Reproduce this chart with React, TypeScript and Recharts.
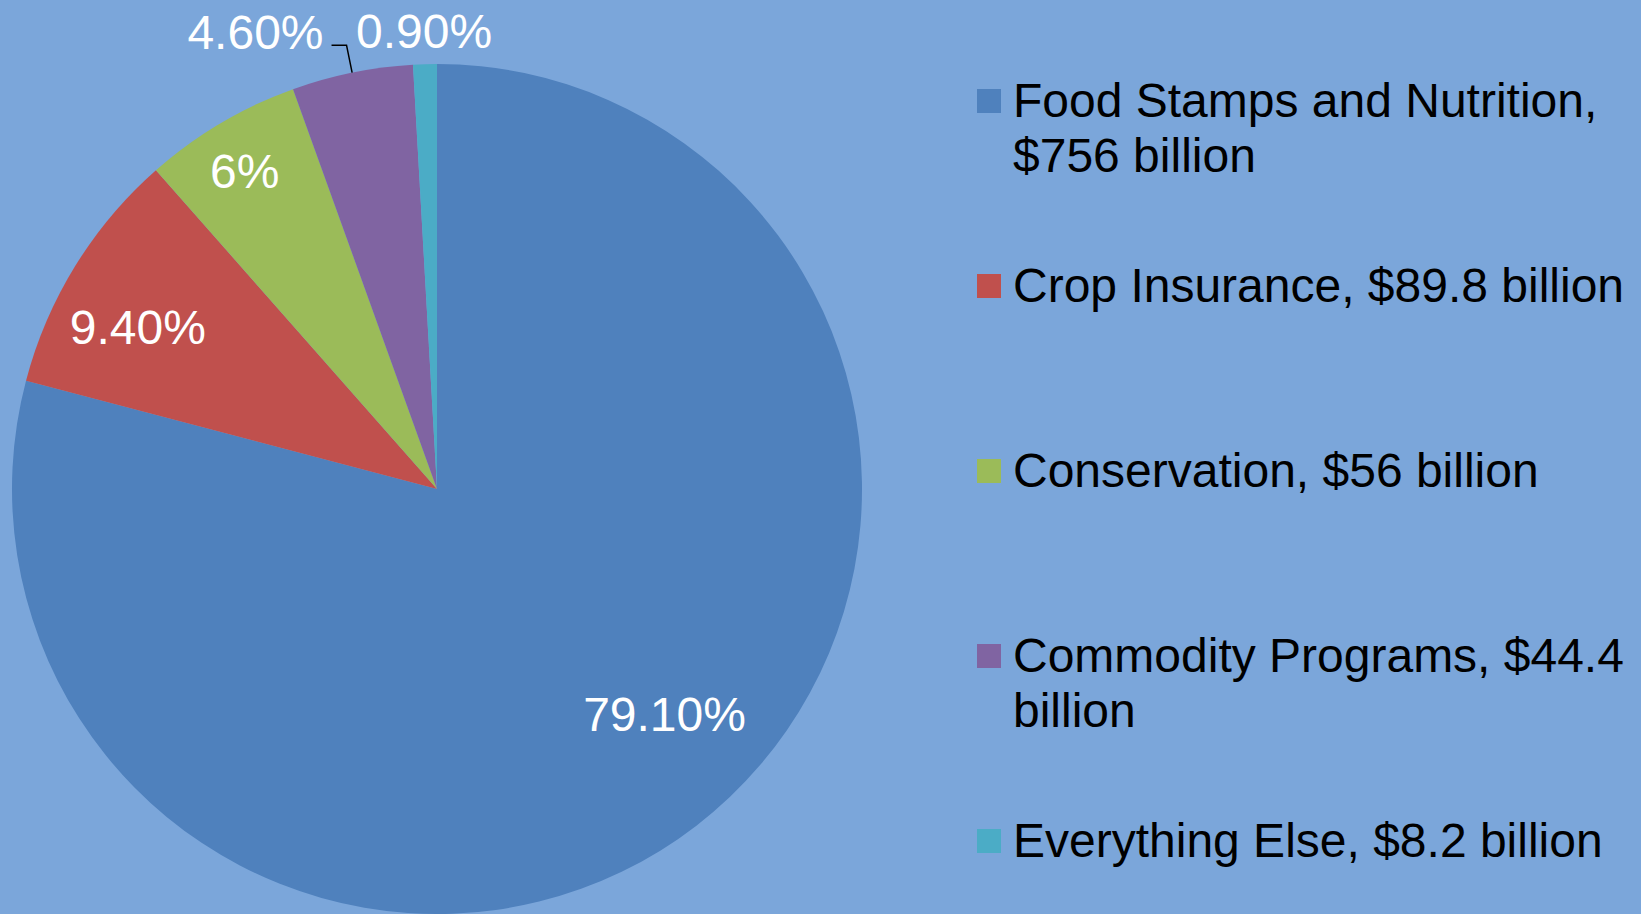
import React from 'react';
import { PieChart, Pie, Cell, Legend } from 'recharts';

const categories = ['Food Stamps and Nutrition', 'Crop Insurance', 'Conservation', 'Commodity Programs', 'Everything Else'];
const amounts = ['$756 billion', '$89.8 billion', '$56 billion', '$44.4 billion', '$8.2 billion'];
const shares = [79.1, 9.4, 6, 4.6, 0.9];
const shareLabels = ['79.10%', '9.40%', '6%', '4.60%', '0.90%'];

const colors = ['#4F81BD', '#C0504D', '#9BBB59', '#8064A2', '#4BACC6'];

// label placement styling (radius fraction / angle nudge / mode)
const labelPlacement = [
  { mode: 'inside', r: 0.753, dAngle: 7.7 },
  { mode: 'inside', r: 0.8, dAngle: 3.3 },
  { mode: 'inside', r: 0.873, dAngle: 0.6 },
  { mode: 'leader', r: 0, dAngle: 0 },
  { mode: 'outside', r: 33, dAngle: 0 },
];

const data = categories.map((c, i) => ({
  name: `${c}, ${amounts[i]}`,
  value: shares[i],
  label: shareLabels[i],
}));

const FONT = '"Liberation Sans", Arial, Helvetica, sans-serif';
const RAD = Math.PI / 180;

const renderLabel = (props: any) => {
  const { cx, cy, midAngle, outerRadius, index } = props;
  const p = labelPlacement[index];
  const text = shareLabels[index];
  const common = { fill: '#FFFFFF', fontSize: 48, fontFamily: FONT };
  if (p.mode === 'inside') {
    const a = (midAngle + p.dAngle) * RAD;
    const r = outerRadius * p.r;
    return (
      <text key={`l${index}`} x={cx + r * Math.cos(a)} y={cy - r * Math.sin(a)} textAnchor="middle" dominantBaseline="central" {...common}>
        {text}
      </text>
    );
  }
  if (p.mode === 'outside') {
    const a = midAngle * RAD;
    const r = outerRadius + p.r;
    return (
      <text key={`l${index}`} x={cx + r * Math.cos(a)} y={cy - r * Math.sin(a)} textAnchor="middle" dominantBaseline="central" {...common}>
        {text}
      </text>
    );
  }
  const a = midAngle * RAD;
  const sx = cx + outerRadius * Math.cos(a);
  const sy = cy - outerRadius * Math.sin(a);
  const ex = cx + (outerRadius + 28) * Math.cos(a);
  const ey = cy - (outerRadius + 28) * Math.sin(a);
  const hx = ex - 15;
  return (
    <g key={`l${index}`}>
      <polyline points={`${sx},${sy} ${ex},${ey} ${hx},${ey}`} fill="none" stroke="#000" strokeWidth={1.5} />
      <text x={hx - 8} y={ey - 13} textAnchor="end" dominantBaseline="central" {...common}>
        {text}
      </text>
    </g>
  );
};

const renderLegend = (props: any) => {
  const payload = [...(props.payload || [])].sort(
    (a: any, b: any) => data.findIndex((d) => d.name === a.value) - data.findIndex((d) => d.name === b.value)
  );
  return (
    <div style={{ width: 660 }}>
      {payload.map((entry: any, i: number) => (
        <div key={i} style={{ position: 'relative', height: 185, fontFamily: FONT, fontSize: 48, lineHeight: '54.5px', color: '#000' }}>
          <div style={{ position: 'absolute', left: 0, top: 15, width: 24, height: 24, background: entry.color }} />
          <div style={{ position: 'absolute', left: 36, top: 0, width: 622 }}>{entry.value}</div>
        </div>
      ))}
    </div>
  );
};

export default function App() {
  return (
    <div style={{ position: 'absolute', left: 0, top: 0, width: 1641, height: 914, background: '#7BA6DA', overflow: 'hidden' }}>
      <PieChart width={1641} height={914}>
        <Pie
          data={data}
          dataKey="value"
          nameKey="name"
          cx={432}
          cy={484}
          outerRadius={425}
          startAngle={90}
          endAngle={-270}
          stroke="none"
          label={renderLabel}
          labelLine={false}
          isAnimationActive={false}
        >
          {data.map((_, i) => (
            <Cell key={i} fill={colors[i]} />
          ))}
        </Pie>
        <Legend
          layout="vertical"
          content={renderLegend}
          wrapperStyle={{ position: 'absolute', left: 977, top: 74, width: 660 }}
        />
      </PieChart>
    </div>
  );
}
